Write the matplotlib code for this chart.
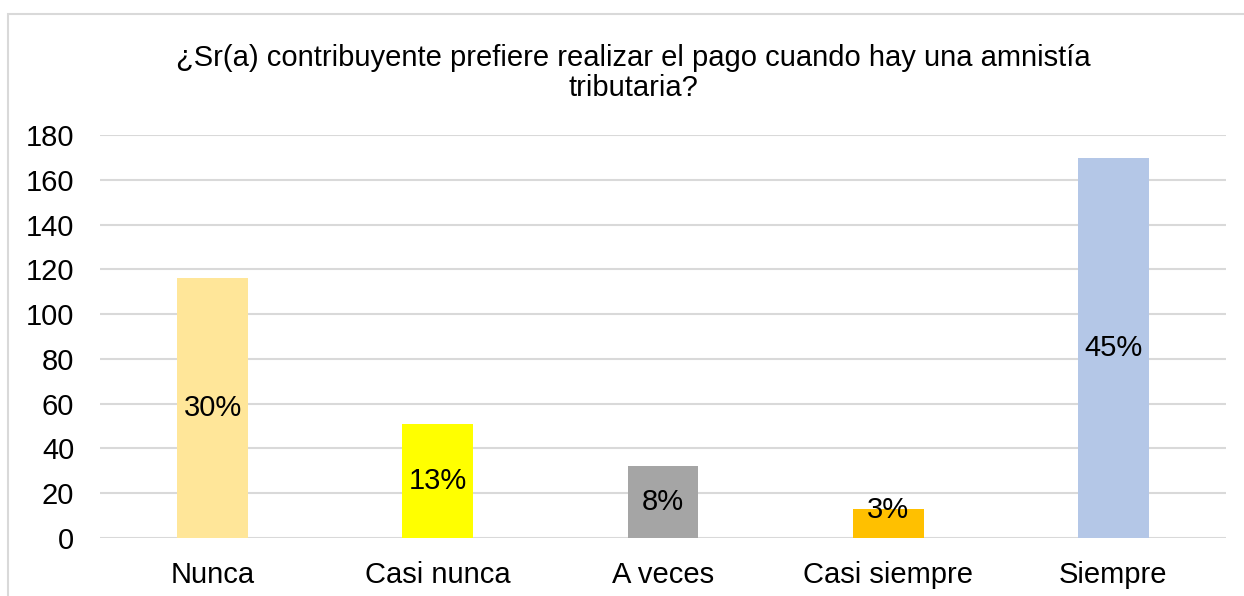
import matplotlib.pyplot as plt
from matplotlib.patches import Rectangle

plt.rcParams['font.family'] = ['Liberation Sans', 'DejaVu Sans']

categories = ['Nunca', 'Casi nunca', 'A veces', 'Casi siempre', 'Siempre']
counts = [116, 51, 32, 13, 170]
percent_labels = ['30%', '13%', '8%', '3%', '45%']
bar_colors = ['#FFE699', '#FFFF00', '#A5A5A5', '#FFC000', '#B4C7E7']
y_ticks = [0, 20, 40, 60, 80, 100, 120, 140, 160, 180]

W, H = 1244, 596
fig = plt.figure(figsize=(W / 100, H / 100), dpi=100)
ax = fig.add_axes([100 / W, 1 - 537.7 / H, 1126 / W, (537.7 - 135.3) / H])

# chart frame (cut off at right and bottom like the original)
fig.patches.append(Rectangle((8 / W, -0.1), 1.2, 1 - 14 / H + 0.1,
                             transform=fig.transFigure, fill=False,
                             edgecolor='#D9D9D9', linewidth=1.5))

x = range(len(categories))
ax.bar(x, counts, width=0.315, color=bar_colors, zorder=2)

for i, (v, lab) in enumerate(zip(counts, percent_labels)):
    ax.text(i, max(v / 2, 12.4), lab, ha='center', va='center',
            fontsize=21, color='black', zorder=3)

ax.set_xlim(-0.5, len(categories) - 0.5)
ax.set_ylim(0, 180)
ax.set_yticks(y_ticks)
ax.set_xticks(list(x))
ax.set_xticklabels(categories)
ax.tick_params(axis='both', length=0, labelsize=21)
ax.tick_params(axis='y', pad=18.5)
ax.tick_params(axis='x', pad=17)
ax.grid(axis='y', color='#D9D9D9', linewidth=1.5, zorder=0)
ax.set_axisbelow(True)
for s in ax.spines.values():
    s.set_visible(False)

fig.text(633 / W, 1 - 73 / H,
         '¿Sr(a) contribuyente prefiere realizar el pago cuando hay una amnistía\ntributaria?',
         ha='center', va='center', fontsize=21, linespacing=1.1)

fig.savefig('out.png', dpi=100)
